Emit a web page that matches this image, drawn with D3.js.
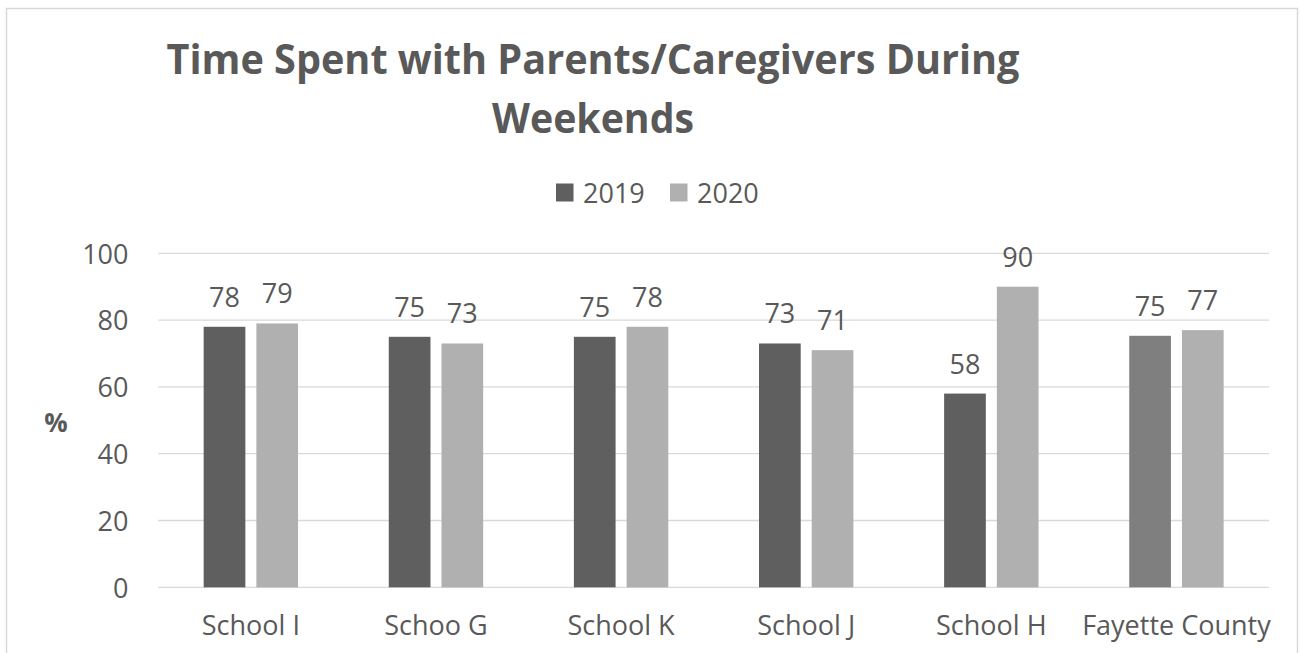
<!DOCTYPE html>
<html>
<head>
<meta charset="utf-8">
<script src="https://cdn.jsdelivr.net/npm/d3@7"></script>
<style>
  body { margin: 0; background: #fff; }
  text { font-family: "Open Sans", sans-serif; fill: #595959; }
</style>
</head>
<body>
<script>
var categories = ["School I", "Schoo G", "School K", "School J", "School H", "Fayette County"];
var series = ["2019", "2020"];
var values2019 = [78, 75, 75, 73, 58, 75.3];
var values2020 = [79, 73, 78, 71, 90, 77];
var yTicks = [0, 20, 40, 60, 80, 100];
var titleLines = ["Time Spent with Parents/Caregivers During", "Weekends"];

var width = 1300,
    height = 653;

var svg = d3.select("body").append("svg")
    .attr("width", width)
    .attr("height", height);

// chart frame
svg.append("rect")
    .attr("x", 6.5).attr("y", 8.5)
    .attr("width", 1291).attr("height", 700)
    .attr("fill", "none")
    .attr("stroke", "#d9d9d9")
    .attr("stroke-width", 1.5);

var plotLeft = 158.3, plotRight = 1269, plotTop = 253.3, plotBottom = 587.3;

var x0 = d3.scaleBand()
    .domain(categories)
    .range([plotLeft, plotRight])
    .padding(0);

var bw = x0.bandwidth();
var x1 = d3.scaleBand()
    .domain(series)
    .range([bw / 2 - 47.2, bw / 2 + 47.2])
    .paddingInner(0.209);

var y = d3.scaleLinear()
    .domain([0, 100])
    .range([plotBottom, plotTop]);

// gridlines
svg.append("g")
    .selectAll("line")
    .data(yTicks)
    .enter()
    .append("line")
    .attr("x1", plotLeft).attr("x2", plotRight)
    .attr("y1", function (d) { return y(d); })
    .attr("y2", function (d) { return y(d); })
    .attr("stroke", "#d9d9d9")
    .attr("stroke-width", 1.3);

// y axis labels
var yAxis = d3.axisLeft(y).tickValues(yTicks).tickSize(0).tickPadding(0);
var ya = svg.append("g")
    .attr("transform", "translate(128.5,0)")
    .call(yAxis);
ya.select(".domain").remove();
ya.selectAll("text")
    .attr("font-size", 27)
    .attr("font-family", "Open Sans")
    .attr("fill", "#595959")
    .attr("dy", "0.36em");

// x axis labels
var xAxis = d3.axisBottom(x0).tickSize(0).tickPadding(0);
var xa = svg.append("g")
    .attr("transform", "translate(0," + plotBottom + ")")
    .call(xAxis);
xa.select(".domain").remove();
xa.selectAll("text")
    .attr("font-size", 27)
    .attr("font-family", "Open Sans")
    .attr("fill", "#595959")
    .attr("y", 48)
    .attr("dy", 0);

var rows = categories.map(function (c, i) {
    return { cat: c, vals: [
        { s: "2019", v: values2019[i], idx: i },
        { s: "2020", v: values2020[i], idx: i }
    ] };
});

function barColor(d) {
    if (d.s === "2020") return "#b0b0b0";
    return d.idx === categories.length - 1 ? "#7f7f7f" : "#5f5f5f";
}

var group = svg.selectAll(".grp")
    .data(rows)
    .enter()
    .append("g")
    .attr("class", "grp")
    .attr("transform", function (d) { return "translate(" + x0(d.cat) + ",0)"; });

group.selectAll("rect")
    .data(function (d) { return d.vals; })
    .enter()
    .append("rect")
    .attr("x", function (d) { return x1(d.s); })
    .attr("width", x1.bandwidth())
    .attr("y", function (d) { return y(d.v); })
    .attr("height", function (d) { return y(0) - y(d.v); })
    .attr("fill", barColor);

group.selectAll(".lbl")
    .data(function (d) { return d.vals; })
    .enter()
    .append("text")
    .attr("class", "lbl")
    .attr("x", function (d) { return x1(d.s) + x1.bandwidth() / 2; })
    .attr("y", function (d) { return y(d.v) - 20; })
    .attr("text-anchor", "middle")
    .attr("font-size", 27)
    .text(function (d) { return d3.format(".0f")(d.v); });

// y axis title
svg.append("text")
    .attr("x", 56).attr("y", 431.5)
    .attr("text-anchor", "middle")
    .attr("font-size", 26)
    .attr("font-weight", "bold")
    .text("%");

// title
var titleWidths = [853, 202];
var titleY = [74.3, 133.3];
svg.selectAll(".title")
    .data(titleLines)
    .enter()
    .append("text")
    .attr("class", "title")
    .attr("x", 593)
    .attr("y", function (d, i) { return titleY[i]; })
    .attr("text-anchor", "middle")
    .attr("font-size", 42)
    .attr("font-weight", "bold")
    .attr("textLength", function (d, i) { return titleWidths[i]; })
    .attr("lengthAdjust", "spacingAndGlyphs")
    .text(function (d) { return d; });

// legend
var legendX = [556, 670];
var leg = svg.selectAll(".leg")
    .data(series)
    .enter()
    .append("g")
    .attr("class", "leg")
    .attr("transform", function (d, i) { return "translate(" + legendX[i] + ",183.5)"; });

leg.append("rect")
    .attr("width", 17.5).attr("height", 18)
    .attr("fill", function (d) { return d === "2019" ? "#5f5f5f" : "#b0b0b0"; });

leg.append("text")
    .attr("x", 27).attr("y", 19.5)
    .attr("font-size", 27)
    .text(function (d) { return d; });
</script>
</body>
</html>
